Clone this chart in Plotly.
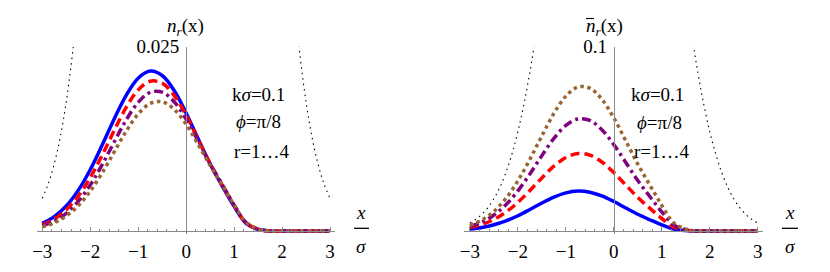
import plotly.graph_objects as go

# page window is 830x272 and the page body has an 8px margin,
# so the figure is 814x256 and reference pixel positions are shifted by 8.
W, H = 814, 256
OFF = 8

# ---------------- data ----------------
x_vals = [-3.0, -2.75, -2.5, -2.25, -2.0, -1.75, -1.5, -1.25, -1.0, -0.75, -0.5, -0.25,
          0.0, 0.25, 0.5, 0.75, 1.0, 1.25, 1.5, 1.75, 2.0, 2.25, 2.5, 2.75, 3.0]

# left panel n_r(x), r = 1..4
n_r1 = [0.00104, 0.00195, 0.00340, 0.00552, 0.00832, 0.01167, 0.01520, 0.01841, 0.02073, 0.02169,
        0.02109, 0.01907, 0.01602, 0.01251, 0.00909, 0.00613, 0.00334, 0.00105, 0.00024, 0,
        0, 0, 0, 0, 0]
n_r2 = [0.00085, 0.00162, 0.00288, 0.00474, 0.00725, 0.01031, 0.01363, 0.01676, 0.01914, 0.02032,
        0.02006, 0.01840, 0.01569, 0.01243, 0.00916, 0.00627, 0.00347, 0.00111, 0.00026, 0,
        0, 0, 0, 0, 0]
n_r3 = [0.00069, 0.00134, 0.00240, 0.00401, 0.00624, 0.00900, 0.01208, 0.01506, 0.01746, 0.01881,
        0.01884, 0.01754, 0.01517, 0.01220, 0.00912, 0.00634, 0.00356, 0.00115, 0.00027, 0,
        0, 0, 0, 0, 0]
n_r4 = [0.00057, 0.00112, 0.00204, 0.00344, 0.00541, 0.00790, 0.01073, 0.01354, 0.01587, 0.01730,
        0.01753, 0.01651, 0.01446, 0.01176, 0.00890, 0.00625, 0.00356, 0.00117, 0.00028, 0,
        0, 0, 0, 0, 0]

# right panel n-bar_r(x), r = 1..4
nb_r1 = [0.00104, 0.00195, 0.00340, 0.00552, 0.00832, 0.01167, 0.01520, 0.01841, 0.02073, 0.02169,
         0.02109, 0.01907, 0.01602, 0.01251, 0.00909, 0.00613, 0.00334, 0.00105, 0.00024, 0,
         0, 0, 0, 0, 0]
nb_r2 = [0.00189, 0.00357, 0.00628, 0.01026, 0.01557, 0.02198, 0.02883, 0.03517, 0.03987, 0.04201,
         0.04115, 0.03747, 0.03171, 0.02494, 0.01825, 0.01240, 0.00681, 0.00216, 0.00050, 0,
         0, 0, 0, 0, 0]
nb_r3 = [0.00258, 0.00491, 0.00868, 0.01427, 0.02181, 0.03098, 0.04091, 0.05023, 0.05733, 0.06082,
         0.05999, 0.05501, 0.04688, 0.03714, 0.02737, 0.01874, 0.01037, 0.00331, 0.00077, 0,
         0, 0, 0, 0, 0]
nb_r4 = [0.00315, 0.00603, 0.01072, 0.01771, 0.02722, 0.03888, 0.05164, 0.06377, 0.07320, 0.07812,
         0.07752, 0.07152, 0.06134, 0.04890, 0.03627, 0.02499, 0.01393, 0.00448, 0.00105, 0,
         0, 0, 0, 0, 0]

# black dotted envelope
x_env = [-3.0, -2.875, -2.75, -2.625, -2.5, -2.375, -2.25, -2.125, -2.0, -1.875, -1.75, -1.625,
         -1.5, -1.375, -1.25, -1.125, -1.0, -0.875, -0.75, -0.625, -0.5, -0.375, -0.25, -0.125,
         0.0, 0.125, 0.25, 0.375, 0.5, 0.625, 0.75, 0.875, 1.0, 1.125, 1.25, 1.375, 1.5, 1.625,
         1.75, 1.875, 2.0, 2.125, 2.25, 2.375, 2.5, 2.625, 2.75, 2.875, 3.0]
env = [0.004432, 0.006395, 0.009094, 0.012723, 0.017528, 0.023768, 0.031740, 0.041720, 0.053991,
       0.068787, 0.086277, 0.106550, 0.129518, 0.155018, 0.182649, 0.211871, 0.241971, 0.272059,
       0.301137, 0.328161, 0.352065, 0.371856, 0.386668, 0.395838, 0.398942, 0.395838, 0.386668,
       0.371856, 0.352065, 0.328161, 0.301137, 0.272059, 0.241971, 0.211871, 0.182649, 0.155018,
       0.129518, 0.106550, 0.086277, 0.068787, 0.053991, 0.041720, 0.031740, 0.023768, 0.017528,
       0.012723, 0.009094, 0.006395, 0.004432]

x_ticks = [-3, -2, -1, 0, 1, 2, 3]
x_ticktext = ["\u22123", "\u22122", "\u22121", "0", "1", "2", "3"]
left_ytick = [0.025]
left_yticktext = ["0.025"]
right_ytick = [0.1]
right_yticktext = ["0.1"]
series_names = ["r=1", "r=2", "r=3", "r=4"]

# ---------------- styles ----------------
FONT = "Liberation Serif"
colors = ["#0000FF", "#FF0000", "#800080", "#996633"]
dashes = ["solid", "9px,5px", "9px,4px,3px,4px", "3.5px,3.5px"]
LW = 3.5
AXC = "#8a8a8a"
TICK_SIZE = 19
TEXT_SIZE = 19

def px(xp):
    return (xp - OFF) / W

def py(yp):
    return 1 - (yp - OFF) / H

fig = go.Figure()

panels = [
    dict(xa="x", ya="y", data=[n_r1, n_r2, n_r3, n_r4]),
    dict(xa="x2", ya="y2", data=[nb_r1, nb_r2, nb_r3, nb_r4]),
]
for p in panels:
    fig.add_trace(go.Scatter(x=x_env, y=env, mode="lines", xaxis=p["xa"], yaxis=p["ya"],
                             line=dict(color="black", width=1.1, dash="1.5px,4px", shape="spline"),
                             showlegend=False, hoverinfo="skip"))
    for i, ys in enumerate(p["data"]):
        fig.add_trace(go.Scatter(x=x_vals, y=ys, mode="lines", name=series_names[i],
                                 xaxis=p["xa"], yaxis=p["ya"],
                                 line=dict(color=colors[i], width=LW, dash=dashes[i], shape="spline"),
                                 showlegend=False))

# ---------------- layout ----------------
xr = [-3.12, 3.1]
ytop_px, ybot_px, yzero_px = 46.7, 234.0, 231.0
ydom = [py(ybot_px), py(ytop_px)]
left_dom = [px(36.5), px(334.8)]
right_dom = [px(464.2), px(762.5)]
left_zero_x = 36.5 + 3.12 * (334.8 - 36.5) / 6.22
right_zero_x = 464.2 + 3.12 * (762.5 - 464.2) / 6.22

tickfont = dict(family=FONT, size=TICK_SIZE, color="black")

def xaxis(dom):
    return dict(domain=dom, range=xr, anchor="free", position=py(yzero_px),
                showline=True, linecolor=AXC, linewidth=1, showgrid=False, zeroline=False,
                tickmode="array", tickvals=x_ticks, ticktext=x_ticktext, ticks="inside",
                ticklen=4, tickcolor=AXC, tickfont=tickfont, ticklabelstandoff=3,
                minor=dict(dtick=0.2, tick0=0, ticks="inside", ticklen=2, tickcolor=AXC,
                           showgrid=False))

def yaxis(yr, xpos, tv, tt):
    return dict(domain=ydom, range=yr, anchor="free", position=xpos, side="left",
                showline=True, linecolor=AXC, linewidth=1, showgrid=False, zeroline=False,
                tickmode="array", tickvals=tv, ticktext=tt, ticks="inside", ticklen=4,
                tickcolor=AXC, tickfont=tickfont, ticklabelstandoff=3)

fig.update_layout(
    width=W, height=H, margin=dict(l=0, r=0, t=0, b=0, autoexpand=False),
    paper_bgcolor="white", plot_bgcolor="white",
    font=dict(family=FONT, size=TEXT_SIZE, color="black"),
    xaxis=xaxis(left_dom),
    xaxis2=xaxis(right_dom),
    yaxis=yaxis([-0.0004, 0.025], px(left_zero_x), left_ytick, left_yticktext),
    yaxis2=yaxis([-0.0016, 0.1], px(right_zero_x), right_ytick, right_yticktext),
)

ann = []
def A(text, x, y, size=TEXT_SIZE, xanchor="center"):
    ann.append(dict(text=text, x=px(x), y=py(y), xref="paper", yref="paper", showarrow=False,
                    xanchor=xanchor, yanchor="middle", font=dict(family=FONT, size=size, color="black")))

# axis labels
A("<i>n</i><sub><i>r</i></sub>(x)", 185, 27)
A("<i>n</i><sub><i>r</i></sub>(x)", 604, 27)
A("<i>x</i>", 361, 212)
A("<i>σ</i>", 361, 246)
A("<i>x</i>", 790, 212)
A("<i>σ</i>", 790, 246)
# parameter text
A("k<i>σ</i>=0.1", 258, 94)
A("<i>ϕ</i>=π/8", 258, 121)
A("r=1…4", 262, 151)
A("k<i>σ</i>=0.1", 657, 94)
A("<i>ϕ</i>=π/8", 659, 122)
A("r=1…4", 662, 151)
fig.update_layout(annotations=ann)

shapes = [
    # fraction bars of x/σ
    dict(type="line", xref="paper", yref="paper", x0=px(354), x1=px(369), y0=py(228.3), y1=py(228.3),
         line=dict(color="black", width=1.3)),
    dict(type="line", xref="paper", yref="paper", x0=px(782), x1=px(798), y0=py(228.3), y1=py(228.3),
         line=dict(color="black", width=1.3)),
    # overbar on n of the right label
    dict(type="line", xref="paper", yref="paper", x0=px(586), x1=px(594), y0=py(18.5), y1=py(18.5),
         line=dict(color="black", width=1.1)),
]
fig.update_layout(shapes=shapes)

fig.write_html("out.html")
